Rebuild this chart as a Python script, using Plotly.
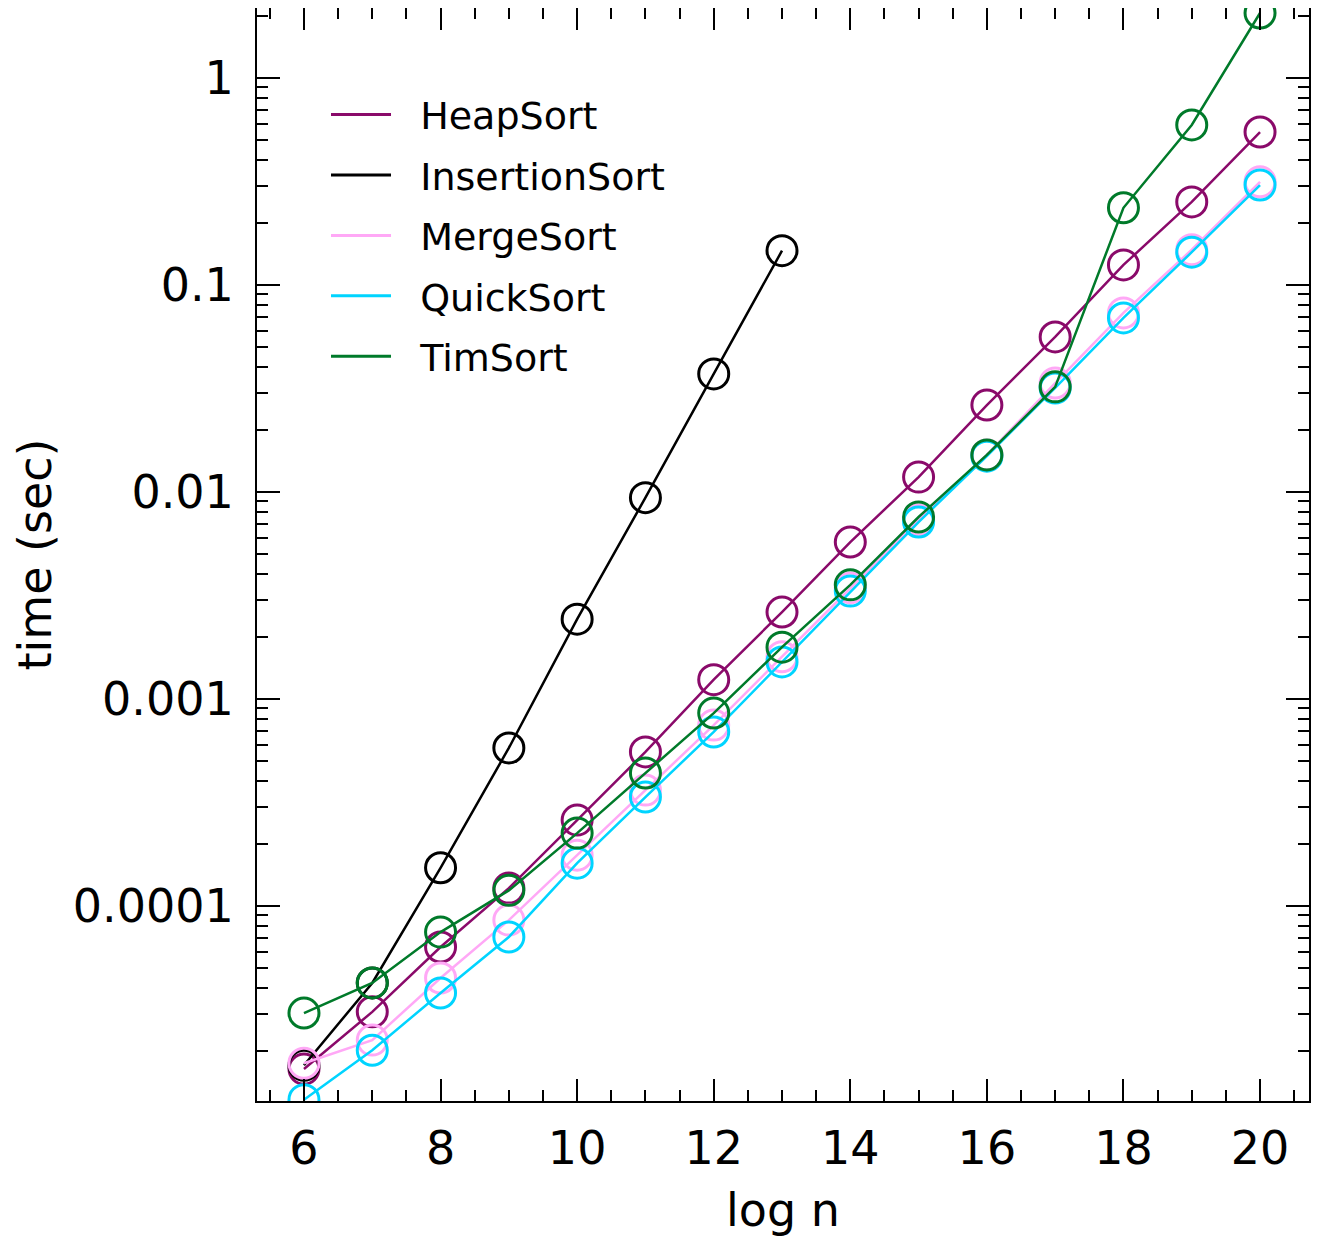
import plotly.graph_objects as go

log_n = list(range(6, 21))
log_n_insertion = list(range(6, 14))

heap_sort = [1.63e-5, 3.08e-5, 6.34e-5, 1.22e-4, 2.60e-4, 5.55e-4, 1.24e-3, 2.63e-3,
             5.73e-3, 0.0118, 0.0263, 0.0561, 0.125, 0.252, 0.548]
insertion_sort = [1.7e-5, 4.25e-5, 1.53e-4, 5.8e-4, 2.43e-3, 9.39e-3, 0.0372, 0.1465]
merge_sort = [1.74e-5, 2.25e-5, 4.49e-5, 8.55e-5, 1.76e-4, 3.63e-4, 7.48e-4, 1.6e-3,
              3.44e-3, 7.32e-3, 0.0151, 0.0336, 0.0733, 0.148, 0.315]
quick_sort = [1.16e-5, 2.01e-5, 3.80e-5, 7.08e-5, 1.61e-4, 3.36e-4, 6.93e-4, 1.51e-3,
              3.32e-3, 7.16e-3, 0.0149, 0.0318, 0.0693, 0.144, 0.304]
tim_sort = [3.04e-5, 4.25e-5, 7.48e-5, 1.19e-4, 2.25e-4, 4.39e-4, 8.55e-4, 1.78e-3,
            3.56e-3, 7.57e-3, 0.0151, 0.0322, 0.236, 0.593, 2.06]

y_tick_vals = [1e-4, 1e-3, 1e-2, 1e-1, 1]
y_tick_text = ["0.0001", "0.001", "0.01", "0.1", "1"]
x_tick_vals = [6, 8, 10, 12, 14, 16, 18, 20]

series = [
    ("HeapSort", log_n, heap_sort, "#8a0a6a"),
    ("InsertionSort", log_n_insertion, insertion_sort, "#000000"),
    ("MergeSort", log_n, merge_sort, "#ffa8f6"),
    ("QuickSort", log_n, quick_sort, "#00d4ff"),
    ("TimSort", log_n, tim_sort, "#007a2a"),
]

fig = go.Figure()
for name, xs, ys, color in series:
    fig.add_trace(go.Scatter(
        x=xs, y=ys, mode="lines+markers", name=name, showlegend=False,
        line=dict(color=color, width=2.5),
        marker=dict(symbol="circle-open", size=30, color=color, line=dict(width=3, color=color)),
        cliponaxis=True,
    ))
pad = "\u00a0\u00a0"
for i, (name, xs, ys, color) in enumerate(series):
    fig.add_trace(go.Scatter(
        x=[None], y=[None], mode="lines", name=pad + name, legendgroup=f"g{i}",
        line=dict(color=color, width=3),
    ))

minor_y = [m * 10.0 ** e for e in range(-5, 1) for m in range(2, 10)]

fig.update_xaxes(
    range=[5.312, 20.717], tickvals=x_tick_vals, ticks="inside", ticklen=22, tickwidth=2,
    tickcolor="black", showline=True, linewidth=2, linecolor="black", mirror="ticks",
    showgrid=False, zeroline=False,
    minor=dict(dtick=0.5, tick0=0, ticks="inside", ticklen=11, tickwidth=2, tickcolor="black", showgrid=False),
    tickfont=dict(family="DejaVu Sans", size=46, color="black"),
    ticklabelstandoff=6,
    title=dict(text="log n", font=dict(family="DejaVu Sans", size=46, color="black"), standoff=29),
)
fig.update_yaxes(
    type="log", range=[-4.942, 0.338], tickvals=y_tick_vals, ticktext=y_tick_text,
    ticks="inside", ticklen=23, tickwidth=2, tickcolor="black",
    showline=True, linewidth=2, linecolor="black", mirror="ticks",
    showgrid=False, zeroline=False,
    minor=dict(tickvals=minor_y, ticks="inside", ticklen=11, tickwidth=2, tickcolor="black", showgrid=False),
    tickfont=dict(family="DejaVu Sans", size=46, color="black"),
    ticklabelstandoff=12,
    title=dict(text="time (sec)", font=dict(family="DejaVu Sans", size=46, color="black"), standoff=34),
)
fig.update_layout(
    width=1311, height=1229,
    margin=dict(l=249, r=10, t=0, b=136, autoexpand=False),
    paper_bgcolor="white", plot_bgcolor="white",
    font=dict(family="DejaVu Sans", color="black"),
    showlegend=True,
    legend=dict(
        x=0.0656, y=0.931, xanchor="left", yanchor="top",
        bgcolor="rgba(0,0,0,0)", borderwidth=0,
        font=dict(family="DejaVu Sans", size=38, color="black"),
        itemwidth=60, tracegroupgap=8,
    ),
)
fig.write_html("out.html")
